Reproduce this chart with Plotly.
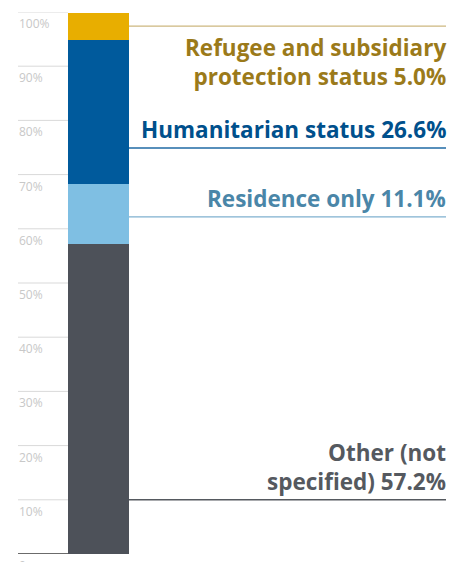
import plotly.graph_objects as go

categories = ["Other (not specified)", "Residence only", "Humanitarian status",
              "Refugee and subsidiary protection status"]
values = [57.2, 11.1, 26.6, 5.0]
label_lines = ["Other (not<br>specified) 57.2%", "Residence only 11.1%",
               "Humanitarian status 26.6%", "Refugee and subsidiary<br>protection status 5.0%"]
bar_colors = ["#4d5159", "#7fbfe3", "#005a9c", "#e8ae00"]
text_colors = ["#55595f", "#4a86a8", "#00508c", "#9b7a1a"]
line_colors = ["#55595f", "#7fb0cf", "#1f6aa5", "#cdb77f"]
leader_y = [10.0, 62.2, 74.9, 97.4]
label_below = [False, False, False, True]
tick_vals = [0, 10, 20, 30, 40, 50, 60, 70, 80, 90, 100]
tick_text = ["0", "10%", "20%", "30%", "40%", "50%", "60%", "70%", "80%", "90%", "100%"]

# page body has an 8px margin, so the figure is sized to fit inside it
W, H = 454, 554
L, R, T, B = 10, 16, 4, 8
plot_w = W - L - R
bar_left, bar_right = 50, 111  # x data units = pixels from plot left

fig = go.Figure()
for cat, v, c in zip(categories, values, bar_colors):
    fig.add_trace(go.Bar(x=[(bar_left + bar_right) / 2], y=[v], width=bar_right - bar_left,
                         marker=dict(color=c, line=dict(width=0)), name=cat,
                         hoverinfo="name+y"))

shapes = []
annotations = []
for tv, tt in zip(tick_vals, tick_text):
    if tv > 0:
        shapes.append(dict(type="line", xref="x", yref="y", x0=0, x1=bar_left, y0=tv, y1=tv,
                           line=dict(color="#d9d9d9", width=1)))
    annotations.append(dict(x=0, y=tv, xref="x", yref="y", text=tt, showarrow=False,
                            xanchor="left", yanchor="top", yshift=-1, xshift=-1,
                            font=dict(family="Open Sans", size=12, color="#c8c8c8")))
shapes.append(dict(type="line", xref="x", yref="y", x0=0, x1=bar_left, y0=0, y1=0,
                   line=dict(color="#6b6b6b", width=2)))

for txt, ly, tc, lc, below in zip(label_lines, leader_y, text_colors, line_colors, label_below):
    shapes.append(dict(type="line", xref="x", yref="y", x0=bar_right, x1=plot_w, y0=ly, y1=ly,
                       line=dict(color=lc, width=1.4)))
    annotations.append(dict(x=plot_w, y=ly, xref="x", yref="y", text=txt, showarrow=False,
                            xanchor="right", yanchor="top" if below else "bottom",
                            align="right", yshift=-4 if below else 1, xshift=2,
                            font=dict(family="Open Sans", size=22.5, color=tc, weight=700)))

fig.update_layout(
    barmode="stack",
    width=W, height=H,
    margin=dict(l=L, r=R, t=T, b=B, pad=0),
    paper_bgcolor="white", plot_bgcolor="white",
    showlegend=False,
    xaxis=dict(range=[0, plot_w], visible=False, fixedrange=True),
    yaxis=dict(range=[0, 100], visible=False, fixedrange=True),
    shapes=shapes, annotations=annotations,
)
fig.write_html("out.html")
